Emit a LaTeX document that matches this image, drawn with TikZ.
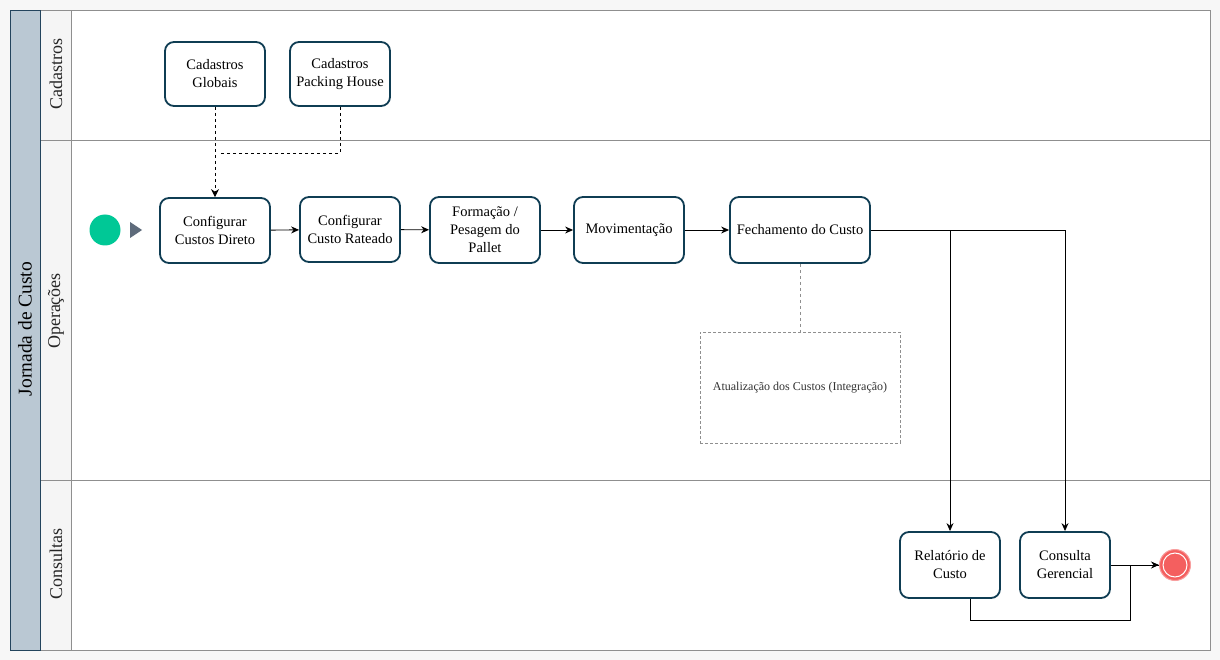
\documentclass[tikz,border=0pt]{standalone}
\usepackage{fontspec}
\setmainfont{Liberation Serif}
\usetikzlibrary{arrows.meta}
\definecolor{bgc}{HTML}{F7F7F7}
\definecolor{lanec}{HTML}{8F8F8F}
\definecolor{laneh}{HTML}{F5F5F5}
\definecolor{poolfill}{HTML}{BAC8D3}
\definecolor{poolline}{HTML}{23445D}
\definecolor{boxline}{HTML}{0F3D53}
\definecolor{startc}{HTML}{00C896}
\definecolor{endc}{HTML}{F45F5F}
\definecolor{trig}{HTML}{5E6B7B}
\tikzset{
  task/.style={draw=boxline, line width=1.8pt, rounded corners=9pt, fill=white,
    align=center, inner sep=1pt, font=\fontsize{14.5}{18}\selectfont},
  flow/.style={draw=black, line width=0.9pt, -{Stealth[length=8pt,width=7pt]}},
  plainflow/.style={draw=black, line width=0.9pt},
  assoc/.style={draw=black, line width=0.9pt, dash pattern=on 3pt off 3pt},
  lanelabel/.style={rotate=90, font=\fontsize{18}{21}\selectfont, text=black!85},
}
\begin{document}
\begin{tikzpicture}[x=1pt,y=-1pt]
\fill[bgc] (0,0) rectangle (1220,660);
\useasboundingbox (0,0) rectangle (1220,660);
% pool and lanes
\draw[lanec, fill=white, line width=0.8pt] (10,10) rectangle (1210,650);
\draw[lanec, fill=laneh, line width=0.8pt] (40,10) rectangle (71,140);
\draw[lanec, fill=laneh, line width=0.8pt] (40,140) rectangle (71,480);
\draw[lanec, fill=laneh, line width=0.8pt] (40,480) rectangle (71,650);
\draw[lanec, line width=0.8pt] (71,140) -- (1210,140);
\draw[lanec, line width=0.8pt] (71,480) -- (1210,480);
\draw[poolline, fill=poolfill, line width=0.9pt] (10,10) rectangle (40,650);
\node[rotate=90, font=\fontsize{19.5}{22}\selectfont] (pool) at (25,329) {Jornada de Custo};
\node[lanelabel] (l1) at (56,74) {Cadastros};
\node[lanelabel] (l2) at (56,311) {Operações};
\node[lanelabel] (l3) at (56,564) {Consultas};
% cadastros
\node[task, minimum width=100pt, minimum height=64pt] (glob) at (215,74) {Cadastros\\Globais};
\node[task, minimum width=100pt, minimum height=64pt] (ph) at (340,74) {Cadastros\\Packing House};
% operacoes
\node[circle, fill=startc, minimum size=31pt, inner sep=0pt] (start) at (105,230) {};
\fill[trig] (130,222) -- (142,230) -- (130,238) -- cycle;
\node[task, minimum width=110pt, minimum height=65pt] (cd) at (215,230.5) {Configurar\\Custos Direto};
\node[task, minimum width=100pt, minimum height=65pt] (cr) at (350,229.5) {Configurar\\Custo Rateado};
\node[task, minimum width=110pt, minimum height=66pt] (fp) at (485,230) {Formação /\\Pesagem do\\Pallet};
\node[task, minimum width=110pt, minimum height=66pt] (mov) at (629,230) {Movimentação};
\node[task, minimum width=140pt, minimum height=66pt] (fech) at (800,230) {Fechamento do Custo};
\node[draw=lanec, dash pattern=on 3pt off 2pt, line width=0.8pt, minimum width=200pt, minimum height=111pt,
      font=\fontsize{12}{14}\selectfont, text=black!80] (ann) at (800,387.5) {Atualização dos Custos (Integração)};
% consultas
\node[task, minimum width=100pt, minimum height=66pt] (rel) at (950,565) {Relatório de\\Custo};
\node[task, minimum width=90pt, minimum height=66pt] (cons) at (1065,565) {Consulta\\Gerencial};
\node[circle, fill=endc, draw=endc!60, line width=1pt, minimum size=31pt, inner sep=0pt] (end) at (1175,565) {};
\draw[white, line width=1pt] (end.center) circle (12pt);
% connectors
\coordinate (k) at (220,153);
\coordinate (j3) at (1130,620);
\draw[assoc, -{Stealth[length=8pt,width=8pt]}] (glob.south) -- (cd.north);
\draw[assoc] (ph.south) |- (k);
\draw[flow] (cd) -- (cr);
\draw[flow] (cr) -- (fp);
\draw[flow] (fp) -- (mov);
\draw[flow] (mov) -- (fech);
\draw[flow] (fech.east) -| (rel.north);
\draw[flow] (fech.east) -| (cons.north);
\draw[flow] (cons.east) -- (end.west);
\draw[plainflow] ([xshift=20pt]rel.south) |- (j3) |- (end.west);
\draw[draw=lanec, line width=0.8pt, dash pattern=on 3pt off 3pt] (fech.south) -- (ann.north);
\end{tikzpicture}
\end{document}
